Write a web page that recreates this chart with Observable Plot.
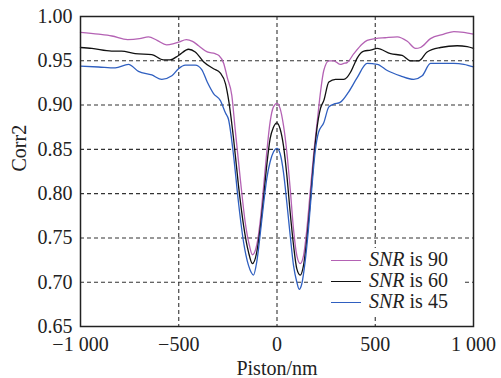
<!DOCTYPE html>
<html>
<head>
<meta charset="utf-8">
<script src="https://cdn.jsdelivr.net/npm/d3@7"></script>
<script src="https://cdn.jsdelivr.net/npm/@observablehq/plot@0.6"></script>
<style>
  html, body { margin: 0; padding: 0; background: white; }
  #wrap { position: relative; width: 501px; height: 378px; font-family: "Liberation Serif", "Times New Roman", serif; }
  #legend { position: absolute; left: 325px; top: 248px; width: 140px; background: white; padding: 1px 0 2px 0; }
  .row { height: 21px; line-height: 21px; font-size: 20px; color: #222; white-space: nowrap; padding-left: 6px; }
  .sw { display: inline-block; width: 30px; height: 0; vertical-align: middle; margin-right: 8px; position: relative; top: -1px; }
</style>
</head>
<body>
<div id="wrap"></div>
<script>
// ---- data ----
const seriesNames = ["SNR is 90", "SNR is 60", "SNR is 45"];
const seriesColors = ["#b462b4", "#111111", "#2f5fc0"];

const xTicks = [-1000, -500, 0, 500, 1000];
const xTickLabels = ["\u22121 000", "\u2212500", "0", "500", "1 000"];
const yTicks = [0.65, 0.70, 0.75, 0.80, 0.85, 0.90, 0.95, 1.00];

const piston90 = [-1000,-908,-840,-760,-700,-654,-610,-562,-530,-501,-461,-430,-399,-355,-315,-296,-271,-253,-230,-213,-187,-162,-141,-125,-103,-86,-69,-52,-35,-18,0,16,33,50,67,84,101,118,135,152,169,186,205,221,238,264,289,321,340,357,391,434,459,501,550,612,663,705,730,781,849,900,951,1000];
const corr90   = [0.982,0.980,0.978,0.974,0.975,0.977,0.973,0.968,0.969,0.971,0.974,0.972,0.967,0.960,0.958,0.956,0.947,0.931,0.911,0.873,0.817,0.768,0.742,0.731,0.742,0.768,0.806,0.847,0.881,0.898,0.902,0.896,0.877,0.847,0.806,0.760,0.730,0.721,0.730,0.760,0.802,0.843,0.882,0.914,0.939,0.950,0.950,0.946,0.947,0.948,0.958,0.969,0.973,0.975,0.976,0.977,0.972,0.964,0.965,0.975,0.980,0.983,0.982,0.980];

const piston60 = [-1000,-942,-842,-791,-722,-637,-578,-544,-501,-450,-416,-374,-323,-288,-262,-245,-221,-196,-170,-145,-125,-103,-86,-69,-52,-35,-18,0,16,33,50,67,84,101,118,135,152,169,186,203,221,238,264,298,340,374,391,408,442,476,510,578,637,679,722,764,832,917,968,1000];
const corr60   = [0.965,0.964,0.961,0.961,0.958,0.957,0.951,0.951,0.956,0.963,0.960,0.949,0.941,0.936,0.924,0.904,0.862,0.809,0.764,0.734,0.721,0.734,0.760,0.794,0.832,0.862,0.875,0.880,0.873,0.854,0.821,0.779,0.742,0.715,0.708,0.719,0.749,0.790,0.836,0.873,0.896,0.905,0.926,0.929,0.929,0.937,0.945,0.953,0.961,0.962,0.964,0.958,0.956,0.950,0.950,0.960,0.965,0.967,0.966,0.964];

const piston45 = [-1000,-908,-823,-756,-705,-637,-586,-535,-501,-467,-416,-383,-355,-323,-288,-262,-247,-221,-196,-170,-145,-131,-120,-103,-86,-69,-52,-35,-18,0,16,33,50,67,84,101,113,126,143,160,177,194,211,238,264,289,321,365,408,459,510,561,628,696,739,781,832,900,951,1000];
const corr45   = [0.944,0.943,0.942,0.946,0.938,0.934,0.929,0.933,0.941,0.945,0.945,0.940,0.926,0.913,0.905,0.891,0.884,0.843,0.790,0.745,0.719,0.711,0.708,0.723,0.753,0.787,0.817,0.836,0.847,0.851,0.845,0.824,0.790,0.753,0.719,0.700,0.692,0.698,0.723,0.760,0.806,0.847,0.869,0.880,0.898,0.901,0.903,0.915,0.931,0.947,0.946,0.939,0.933,0.929,0.933,0.947,0.947,0.947,0.946,0.943];

// ---- build table ----
const pistons = [piston90, piston60, piston45];
const corrs = [corr90, corr60, corr45];
const rows = [];
seriesNames.forEach((name, i) => {
  pistons[i].forEach((p, j) => rows.push({series: name, piston: p, corr: corrs[i][j]}));
});

const font = '"Liberation Serif", "Times New Roman", serif';

const chart = Plot.plot({
  width: 501,
  height: 378,
  marginLeft: 80,
  marginRight: 28,
  marginTop: 16,
  marginBottom: 52,
  style: {fontFamily: font, fontSize: "20px", background: "white", color: "#222"},
  x: {domain: [-1000, 1000]},
  y: {domain: [0.65, 1.0]},
  color: {domain: seriesNames, range: seriesColors},
  marks: [
    Plot.gridX(xTicks.slice(1, -1), {stroke: "#333", strokeOpacity: 1, strokeWidth: 1.1, strokeDasharray: "4,3"}),
    Plot.gridY(yTicks.slice(1, -1), {stroke: "#333", strokeOpacity: 1, strokeWidth: 1.1, strokeDasharray: "4,3"}),
    Plot.line(rows, {x: "piston", y: "corr", z: "series", stroke: "series", strokeWidth: 1.3, curve: "monotone-x"}),
    Plot.frame({stroke: "#222", strokeWidth: 1.5}),
    Plot.axisX(xTicks, {tickSize: 0, tickPadding: 10, fontSize: 20, label: null,
      tickFormat: (d) => xTickLabels[xTicks.indexOf(d)]}),
    Plot.axisY(yTicks, {tickSize: 0, tickPadding: 8, fontSize: 20, label: null,
      tickFormat: d3.format(".2f")}),
    Plot.text(["Piston/nm"], {frameAnchor: "bottom", dy: 48, fontSize: 20, fill: "#222"}),
    Plot.text(["Corr2"], {frameAnchor: "left", dx: -61, rotate: -90, fontSize: 20, fill: "#222"})
  ]
});

const wrap = document.getElementById("wrap");
wrap.appendChild(chart);

// legend
const legend = document.createElement("div");
legend.id = "legend";
seriesNames.forEach((name, i) => {
  const row = document.createElement("div");
  row.className = "row";
  const sw = document.createElement("span");
  sw.className = "sw";
  sw.style.borderTop = `1.3px solid ${seriesColors[i]}`;
  row.appendChild(sw);
  const parts = name.split(" ");
  const em = document.createElement("i");
  em.textContent = parts[0];
  row.appendChild(em);
  row.appendChild(document.createTextNode(" " + parts.slice(1).join(" ")));
  legend.appendChild(row);
});
wrap.appendChild(legend);
</script>
</body>
</html>
